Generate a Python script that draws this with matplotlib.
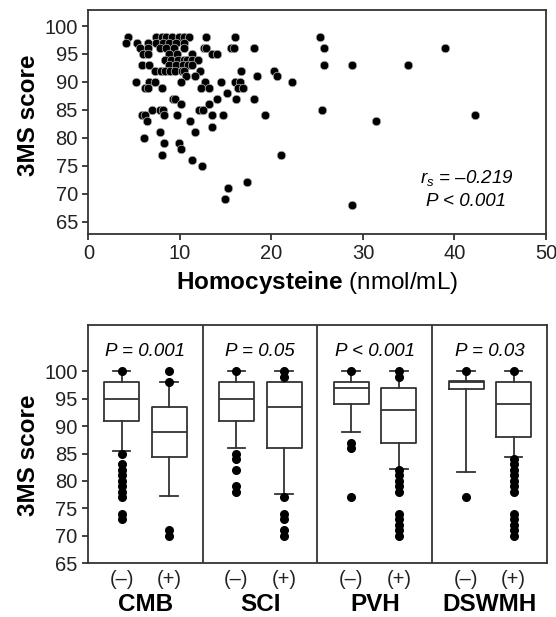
import numpy as np
import matplotlib
matplotlib.use("Agg")
import matplotlib.pyplot as plt

plt.rcParams["font.family"] = ["Liberation Sans", "DejaVu Sans"]
plt.rcParams["mathtext.fontset"] = "custom"
plt.rcParams["mathtext.it"] = "Liberation Sans:italic"
plt.rcParams["mathtext.rm"] = "Liberation Sans"
plt.rcParams["mathtext.bf"] = "Liberation Sans:bold"

# scatter: 3MS score vs homocysteine, grouped by score value
score_rows = {
    98: [4.3, 7.4, 8.0, 8.5, 9.1, 9.9, 10.5, 11.0, 12.9, 16.0, 25.3],
    97: [4.1, 5.35, 6.55, 7.35, 8.1, 8.8, 9.55, 10.5],
    96: [5.6, 6.55, 7.8, 8.5, 9.35, 10.5, 12.6, 12.9, 15.6, 15.9, 18.1, 25.7, 39.0],
    95: [6.0, 6.55, 8.8, 9.7, 11.3, 13.5, 14.0],
    94: [8.4, 9.05, 9.8, 10.5, 10.8, 11.3, 12.0],
    93: [5.9, 6.6, 8.8, 9.55, 10.3, 10.9, 11.3, 25.7, 28.8, 34.9],
    92: [7.3, 7.9, 8.4, 8.9, 9.5, 10.2, 10.5, 12.2, 16.7, 20.3],
    91: [10.7, 11.65, 18.4, 20.6],
    90: [5.2, 6.6, 7.3, 10.1, 12.7, 14.5, 16.0, 16.6, 22.2],
    89: [6.2, 6.5, 8.0, 12.3, 13.2, 16.3, 16.9],
    88: [15.1],
    87: [9.2, 9.5, 14.0, 16.1, 18.1],
    86: [10.1, 13.2],
    85: [6.9, 7.85, 8.1, 12.1, 12.5, 25.5],
    84: [5.9, 6.2, 8.3, 9.7, 13.5, 14.7, 19.3, 42.2],
    83: [6.45, 11.1, 31.4],
    82: [13.5],
    81: [7.8, 11.6],
    80: [6.1],
    79: [8.3, 9.9],
    78: [10.1],
    77: [8.0, 21.0],
    76: [11.3],
    75: [12.4],
    72: [17.3],
    71: [15.2],
    69: [14.9],
    68: [28.8],
}
hcy = [x for s in score_rows for x in score_rows[s]]
score = [s for s in score_rows for x in score_rows[s]]

# box plot summaries per lesion group, (-) then (+)
groups = ["CMB", "SCI", "PVH", "DSWMH"]
p_labels = ["P = 0.001", "P = 0.05", "P < 0.001", "P = 0.03"]
q1 = [91, 84.3, 91, 86, 94, 86.9, 96.8, 88]
med = [95, 88.9, 95, 93.5, 97, 92.9, 98, 94]
q3 = [98, 93.5, 98, 98, 98, 97, 98.2, 98]
whis_lo = [85.5, 77.3, 86, 77.7, 88.9, 82.1, 81.6, 84.3]
whis_hi = [100, 98, 100, 100, 100, 100, 100, 100]
fliers = [
    [100, 85, 83, 82, 81, 80, 79, 78, 77, 74, 73],
    [100, 98, 71, 70],
    [100, 85, 84, 82, 79, 78],
    [100, 99, 77, 74, 73, 71, 70],
    [100, 87, 86, 77],
    [100, 99, 82, 81, 80, 79, 78, 74, 73, 72, 71, 70],
    [100, 77],
    [100, 84, 83, 82, 81, 80, 79, 78, 74, 73, 72, 71, 70],
]

fig = plt.figure(figsize=(5.56, 6.17), dpi=100)
ax1 = fig.add_axes([0.159, 0.621, 0.823, 0.363])
ax2 = fig.add_axes([0.158, 0.0875, 0.826, 0.385])

line_c = "#333333"

ax1.scatter(hcy, score, s=38, c="black", edgecolors="#bbbbbb", linewidths=0.5, zorder=3)
ax1.set_xlim(0, 50)
ax1.set_ylim(62.8, 102.9)
ax1.set_xticks([0, 10, 20, 30, 40, 50])
ax1.set_yticks([65, 70, 75, 80, 85, 90, 95, 100])
ax1.set_ylabel("3MS score", fontsize=17.5, fontweight="bold")
ax1.set_xlabel(r"$\bf{Homocysteine}$ (nmol/mL)", fontsize=17.5, labelpad=4)
ax1.yaxis.set_label_coords(-0.105, 0.53)
ax1.text(41.3, 72.8, r"$\mathit{r}_\mathit{s}$ = –0.219", fontsize=13.5, style="italic", ha="center", va="center")
ax1.text(41.3, 68.6, "P < 0.001", fontsize=13.5, style="italic", ha="center", va="center")

# boxes
pos = []
for k in range(4):
    pos += [k + 0.294, k + 0.709]
stats = []
for i in range(8):
    stats.append({"med": med[i], "q1": q1[i], "q3": q3[i],
                  "whislo": whis_lo[i], "whishi": whis_hi[i], "fliers": fliers[i]})
ax2.bxp(stats, positions=pos, widths=0.305, showfliers=True,
        boxprops=dict(color=line_c, linewidth=1.3),
        medianprops=dict(color=line_c, linewidth=1.3),
        whiskerprops=dict(color=line_c, linewidth=1.3),
        capprops=dict(color=line_c, linewidth=1.3),
        flierprops=dict(marker="o", markerfacecolor="black", markeredgecolor="black", markersize=5.5))
for k in range(1, 4):
    ax2.axvline(k, color=line_c, linewidth=1.3)
for k in range(4):
    ax2.text(k + 0.5, 103.6, p_labels[k], fontsize=13.5, style="italic", ha="center", va="center")
    ax2.text(k + 0.5, 57.4, groups[k], fontsize=17.5, fontweight="bold", ha="center", va="center")
ax2.set_xlim(0, 4)
ax2.set_ylim(65, 108.4)
ax2.set_yticks([65, 70, 75, 80, 85, 90, 95, 100])
ax2.set_xticks(pos)
ax2.set_xticklabels(["(–)", "(+)"] * 4)
ax2.set_ylabel("3MS score", fontsize=17.5, fontweight="bold")
ax2.yaxis.set_label_coords(-0.105, 0.455)

for ax in (ax1, ax2):
    for sp in ax.spines.values():
        sp.set_color(line_c)
        sp.set_linewidth(1.3)
    ax.tick_params(labelsize=14.5, color=line_c, width=1.3, length=4, colors="#222222")
ax2.tick_params(axis="x", length=0, pad=5, labelsize=14.5)

fig.savefig("out.png", dpi=100)
